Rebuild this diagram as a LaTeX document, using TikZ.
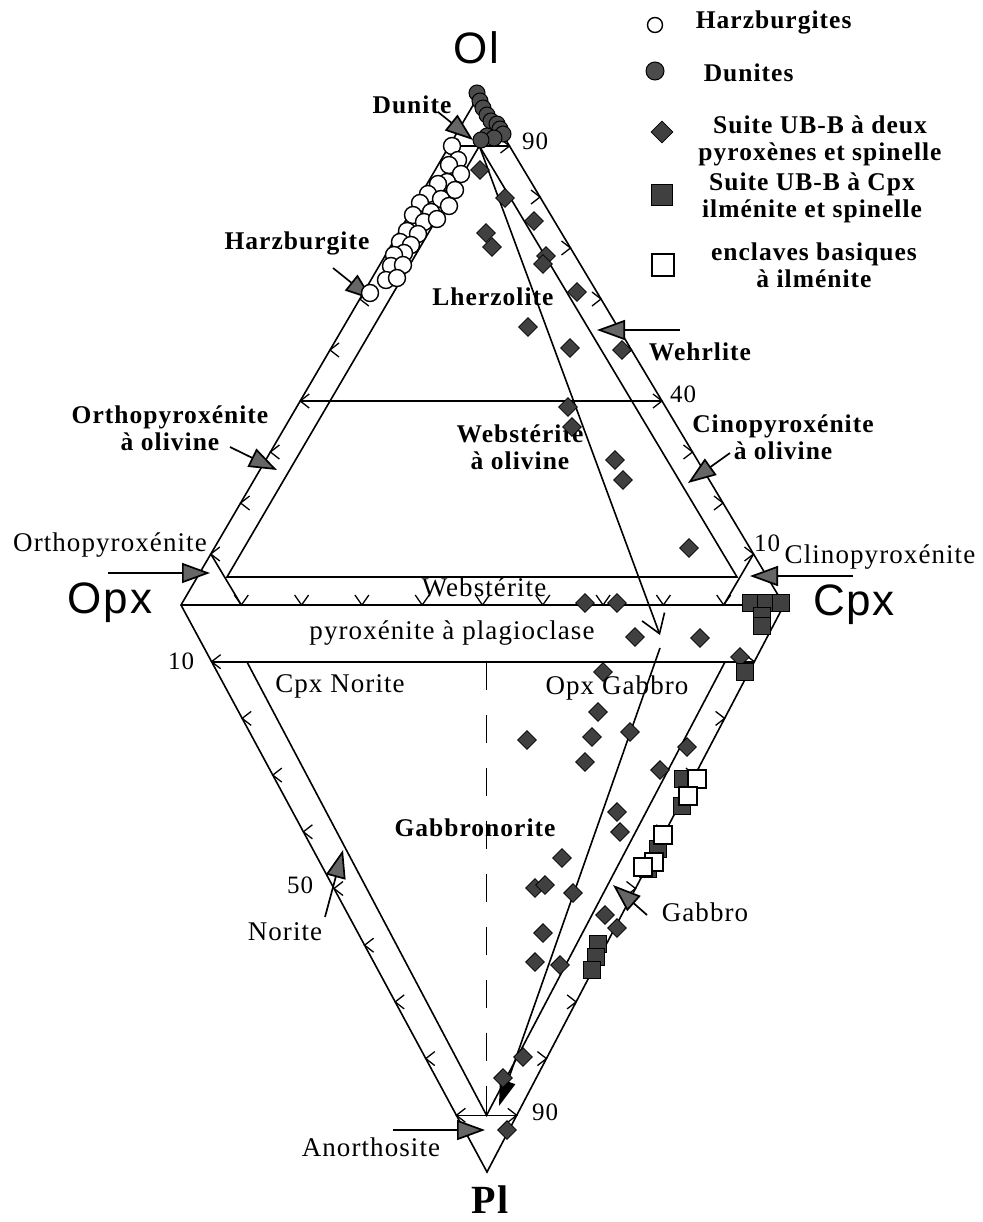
\documentclass[tikz,border=0pt]{standalone}
\usepackage{fontspec}
\setmainfont{Liberation Serif}[LetterSpace=4]
\newfontfamily\polefont{Liberation Sans}[LetterSpace=4]
\usetikzlibrary{calc,arrows.meta,shapes.geometric}

\begin{document}
\begin{tikzpicture}[x=1pt,y=-1pt,line width=1.6pt,
  lab/.style={font=\fontsize{25.5}{27}\selectfont\bfseries,align=center,inner sep=0pt},
  labr/.style={font=\fontsize{27}{28}\selectfont,align=center,inner sep=0pt},
  num/.style={font=\fontsize{25}{27}\selectfont,inner sep=0pt},
  pole/.style={font=\polefont\fontsize{44}{44}\selectfont,inner sep=0pt},
  tick/.style={line width=1.3pt},
  fat/.style={-{Triangle[length=28pt,width=20pt,fill=black!60]},line width=1.7pt},
  trend/.style={-{Straight Barb[length=18pt,width=24pt]}},
  harz/.style={circle,draw,fill=white,line width=1.4pt,minimum size=17pt,inner sep=0pt},
  dunsym/.style={circle,draw,fill=black!70,line width=1pt,minimum size=16pt,inner sep=0pt},
  dia/.style={diamond,draw,fill=black!75,line width=0.8pt,minimum size=19pt,inner sep=0pt},
  cpxsq/.style={rectangle,draw,fill=black!75,line width=0.8pt,minimum size=17pt,inner sep=0pt},
  encl/.style={rectangle,draw,fill=white,line width=1.4pt,minimum size=18pt,inner sep=0pt}]
\useasboundingbox (0,0) rectangle (982,1222);

        \coordinate (Ol) at (479,95);
        \coordinate (Opx) at (181,605);
        \coordinate (Cpx) at (784,605);
        \coordinate (Pl) at (487,1172);
        \draw (Opx)--(Ol)--(Cpx)--(Pl)--cycle;
        \draw (Opx)--(Cpx);

        % ultramafiques
        \draw ($(Opx)!.9!(Ol)$) coordinate (a90)--($(Cpx)!.9!(Ol)$) coordinate (b90);
        \coordinate (Mt) at ($(a90)!.5!(b90)$);
        \draw ($(Opx)!.4!(Ol)$)--($(Cpx)!.4!(Ol)$);
        \coordinate (w1) at (227,577);
        \coordinate (w2) at (737,577);
        \draw (w1)--(Mt)--(w2)--cycle;
        \draw ($(Opx)!.1!(Ol)$)--($(Opx)!.1!(Cpx)$);
        \draw ($(Cpx)!.1!(Ol)$)--($(Cpx)!.1!(Opx)$);

        % gabbros
        \draw ($(Opx)!.1!(Pl)$) coordinate (p1)--($(Cpx)!.1!(Pl)$);
        \draw ($(Opx)!.9!(Pl)$) coordinate (a90b)--($(Cpx)!.9!(Pl)$) coordinate (b90b);
        \coordinate (Mb) at ($(a90b)!.5!(b90b)$);
        \coordinate (g1) at (247,662);
        \coordinate (g2) at (725,662);
        \draw (g1)--(Mb)--(g2);
        \draw[dash pattern=on 28pt off 25pt] (Mb |- p1)--(Mb);

        % graduations
        \foreach \i in {1,...,9}{
          \draw[tick] ($(Opx)!{\i/10}!(Ol)$) +(9,-7)--+(0,0)--+(9,7);
          \draw[tick] ($(Cpx)!{\i/10}!(Ol)$) +(-9,-7)--+(0,0)--+(-9,7);
          \draw[tick] ($(Opx)!{\i/10}!(Cpx)$) +(-7,-10)--+(0,0)--+(7,-10);
          \draw[tick] ($(Opx)!{\i/10}!(Pl)$) +(9,-7)--+(0,0)--+(9,7);
          \draw[tick] ($(Cpx)!{\i/10}!(Pl)$) +(-9,-7)--+(0,0)--+(-9,7);
        }

        % tendances
        \coordinate (t1) at (660,635);
        \coordinate (t2a) at (660,648);
        \coordinate (t2b) at (499,1106);
        \draw[trend] (Mt)--(t1);
        \draw[-{Triangle[length=26pt,width=16pt]}] (t2a)--(t2b);

        % poles
        \node[pole] (ol) at (476,48) {Ol};
        \node[pole] (opx) at (110,603) {Opx};
        \node[pole] (cpx) at (854,605) {Cpx};
        \node[font=\fontsize{40}{40}\selectfont\bfseries,inner sep=0pt] (pl) at (490,1200) {Pl};

        % valeurs
        \node[num] (n90a) at (535,141) {90};
        \node[num] (n40) at (683,394) {40};
        \node[num] (n10a) at (767,543) {10};
        \node[num] (n10b) at (181,661) {10};
        \node[num] (n50) at (300,885) {50};
        \node[num] (n90b) at (545,1112) {90};

        % noms
        \node[lab] (ldun) at (412,105) {Dunite};
        \node[lab] (lharz) at (297,243) {Harzburgite};
        \node[lab] (llherz) at (493,297) {Lherzolite};
        \node[lab] (lwehr) at (700,352) {Wehrlite};
        \node[lab] (lolopx) at (170,428) {Orthopyroxénite\\à olivine};
        \node[lab] (lolweb) at (520,447) {Webstérite\\à olivine};
        \node[lab] (lolcpx) at (783,437) {Cinopyroxénite\\à olivine};
        \node[labr] (lopxite) at (110,545) {Orthopyroxénite};
        \node[labr] (lcpxite) at (880,557) {Clinopyroxénite};
        \node[labr] (lweb) at (484,587) {Webstérite};
        \node[labr] (lpxpl) at (452,633) {pyroxénite à plagioclase};
        \node[labr] (lcpxnor) at (340,686) {Cpx Norite};
        \node[labr] (lopxgab) at (617,688) {Opx Gabbro};
        \node[lab] (lgabnor) at (475,828) {Gabbronorite};
        \node[labr] (lnor) at (285,932) {Norite};
        \node[labr] (lgab) at (705,912) {Gabbro};
        \node[labr] (lano) at (371,1147) {Anorthosite};

        % fleches
        \coordinate (dunT) at (473,140);
        \coordinate (harzT) at (373,300);
        \coordinate (wehrT) at (597,330);
        \coordinate (olcpxT) at (688,483);
        \coordinate (cpxiteT) at (750,576);
        \coordinate (opxiteT) at (210,573);
        \coordinate (olopxT) at (277,470);
        \coordinate (norT) at (343,850);
        \coordinate (gabT) at (613,885);
        \coordinate (anoT) at (485,1130);
        \draw[fat] ($(ldun)+(26,7)$)--(dunT);
        \draw[fat] ($(lharz)+(36,25)$)--(harzT);
        \draw[fat] ($(lwehr)+(-20,-22)$)--(wehrT);
        \draw[fat] ($(lolcpx)+(-53,16)$)--(olcpxT);
        \draw[fat] ($(lcpxite)+(-27,19)$)--(cpxiteT);
        \draw[fat] ($(lopxite)+(-2,28)$)--(opxiteT);
        \draw[fat] ($(lolopx)+(60,19)$)--(olopxT);
        \draw[fat] ($(lnor)+(40,-15)$)--(norT);
        \draw[fat] ($(lgab)+(-58,3)$)--(gabT);
        \draw[fat] ($(lano)+(22,-17)$)--(anoT);

        % donnees
        \foreach \x/\y [count=\i] in {452/146,458/160,449/165,461/174,447/182,438/184,455/190,428/194,441/199,449/206,420/203,431/212,413/215,424/222,437/219,407/231,418/234,400/242,411/245,404/253,394/255,391/266,403/265,386/280,397/278,370/293}
          \node[harz] (h\i) at (\x,\y) {};
        \foreach \x/\y [count=\i] in {477/93,480/101,483/108,487/115,491/121,497/124,500/129,503/134,487/136,494/138,481/140}
          \node[dunsym] (d\i) at (\x,\y) {};
        \foreach \x/\y [count=\i] in {480/170,505/198,534/221,486/233,492/247,546/256,543/264,577/292,528/327,570/348,622/350,568/407,572/427,615/460,623/480,689/548,585/603,617/603,635/637,700/638,740/657,603/672,598/712,630/732,527/740,592/737,585/762,687/747,660/770,617/812,620/832,562/858,535/888,545/885,573/893,605/915,617/928,543/933,535/962,560/965,523/1057,503/1078,507/1130}
          \node[dia] (s\i) at (\x,\y) {};
        \foreach \x/\y [count=\i] in {751/603,766/603,781/603,762/616,762/626,745/672,683/779,682/806,658/849,648/869,598/944,596/957,592/970}
          \node[cpxsq] (c\i) at (\x,\y) {};
        \foreach \x/\y [count=\i] in {697/779,688/796,663/835,654/862,643/867}
          \node[encl] (e\i) at (\x,\y) {};

        % legende
        \node[harz,minimum size=15pt] (leg1) at (655,25) {};
        \node[dunsym,minimum size=18pt] (leg2) at (655,71) {};
        \node[dia,minimum size=22pt] (leg3) at (662,132) {};
        \node[cpxsq,minimum size=21pt] (leg4) at (662,195) {};
        \node[encl,minimum size=22pt] (leg5) at (663,265) {};
        \node[lab,anchor=west] (legt1) at (695,22) {Harzburgites};
        \node[lab,anchor=west] (legt2) at (703,73) {Dunites};
        \node[lab] (legt3) at (820,141) {Suite UB-B à deux\\pyroxènes et spinelle};
        \node[lab] (legt4) at (812,198) {Suite UB-B à Cpx\\ilménite et spinelle};
        \node[lab] (legt5) at (814,265) {enclaves basiques\\à ilménite};
\end{tikzpicture}
\end{document}
